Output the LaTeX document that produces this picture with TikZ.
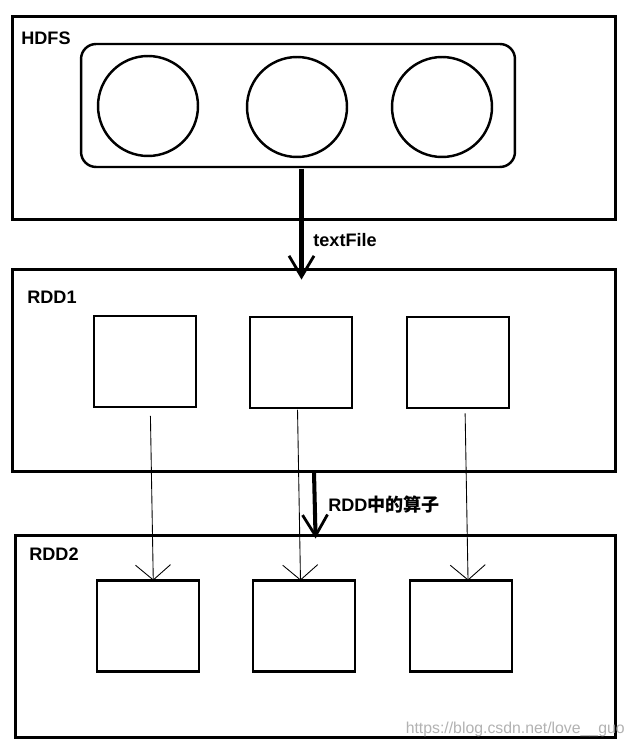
\documentclass[tikz,border=0pt]{standalone}
\usepackage{fontspec}
\setmainfont{Liberation Sans}
\newfontfamily\cjk{Noto Sans CJK SC}
\usetikzlibrary{positioning}
\usetikzlibrary{arrows.meta}

\begin{document}
\begin{tikzpicture}[x=0.02cm, y=-0.02cm,
	layer/.style={draw, line width=1.7pt, inner sep=0pt, outer sep=0pt, minimum width=12.08cm, minimum height=4.06cm},
	store/.style={draw, line width=1.4pt, rounded corners=0.3cm, inner sep=0pt, outer sep=0pt, minimum width=8.68cm, minimum height=2.46cm},
	block/.style={circle, draw, line width=1.4pt, inner sep=0pt, outer sep=0pt, minimum size=2cm},
	part/.style={draw, line width=1.4pt, inner sep=0pt, outer sep=0pt, minimum width=2.04cm, minimum height=1.82cm},
	title/.style={anchor=base west, inner sep=0pt, font=\fontsize{10.3}{12}\selectfont\bfseries},
	bigarrow/.style={line width=2.3pt, -{Straight Barb[length=0.42cm, width=0.5cm, line width=1.6pt]}},
	thinarrow/.style={line width=0.5pt, -{Straight Barb[length=0.3cm, width=0.7cm, line width=0.5pt]}}
	]
	\useasboundingbox (0,0) rectangle (633,746);
	
	% HDFS LAYER
	\node[layer] (hdfs) at (314,118) {};
	\node[title] (hdfs-label) at (21,45) {HDFS};
	\node[store] (store) at (298,105.5) {};
	\node[block] (blk1) at (148,106) {};
	\node[block] (blk2) at (297,107) {};
	\node[block] (blk3) at (442,107) {};
	
	% RDD1 LAYER
	\node[layer] (rdd1) at (314,370.5) {};
	\node[title] (rdd1-label) at (27,303) {RDD1};
	\node[part] (p1a) at (145,361.5) {};
	\node[part] (p1b) at (301,362.5) {};
	\node[part] (p1c) at (458,362.5) {};
	
	% RDD2 LAYER
	\node[layer, minimum width=12.02cm] (rdd2) at (315.5,636.5) {};
	\node[title] (rdd2-label) at (29,560) {RDD2};
	\node[part] (p2a) at (148,626) {};
	\node[part] (p2b) at (304,626) {};
	\node[part] (p2c) at (461,626) {};
	
	% TEXTFILE
	\draw[bigarrow, shorten <=1pt, shorten >=-6pt] ([xshift=2pt]store.south) -- ([xshift=2pt]store.south |- rdd1.north);
	\node[title] (text-file) at (313,247) {textFile};
	
	% OPERATOR
	\draw[bigarrow, shorten >=-2pt] (rdd1.south) -- (rdd2.north);
	\node[title] (operator) at (328,511) {RDD{\cjk\bfseries 中的算子}};
	
	% PARTITIONS
	\draw[thinarrow, shorten <=5pt] ([xshift=3pt]p1a.south) -- ([xshift=3pt]p2a.north);
	\draw[thinarrow, shorten <=1pt] ([xshift=-2pt]p1b.south) -- ([xshift=-2pt]p2b.north);
	\draw[thinarrow, shorten <=3pt] ([xshift=4pt]p1c.south) -- ([xshift=4pt]p2c.north);
	
	\node[anchor=base east, inner sep=0pt, text=black!30, font=\fontsize{9}{10}\selectfont] (mark) at (625,733) {https://blog.csdn.net/love\_\_guo};
\end{tikzpicture}
\end{document}
